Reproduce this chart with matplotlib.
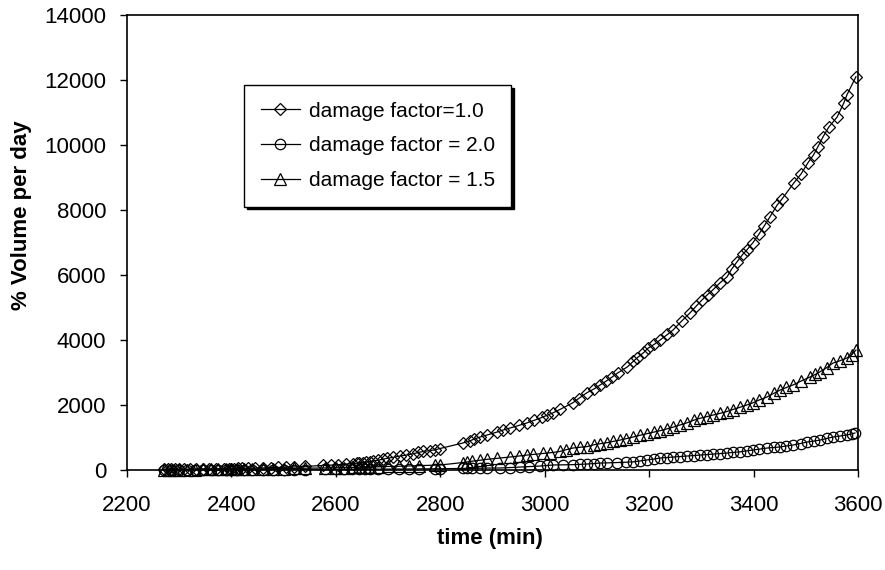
import matplotlib
matplotlib.use("Agg")
import matplotlib.pyplot as plt

plt.rcParams['font.family'] = ['Liberation Sans', 'DejaVu Sans']

# damage factor = 1.0 (diamonds)
t_df10 = [2270, 2278, 2285, 2292, 2300, 2310, 2320, 2332, 2345, 2358, 2370, 2385, 2395, 2400,
          2405, 2412, 2420, 2432, 2445, 2460, 2475, 2490, 2505, 2520, 2540, 2575, 2590, 2605,
          2620, 2633, 2640, 2645, 2652, 2658, 2665, 2671, 2680, 2690, 2698, 2710, 2723, 2735,
          2748, 2758, 2767, 2780, 2790, 2799, 2843, 2857, 2865, 2876, 2890, 2909, 2920, 2933,
          2950, 2966, 2980, 2995, 3005, 3016, 3030, 3054, 3065, 3081, 3095, 3106, 3118, 3129,
          3140, 3158, 3170, 3177, 3190, 3198, 3210, 3221, 3235, 3246, 3262, 3278, 3290, 3301,
          3312, 3322, 3335, 3349, 3358, 3368, 3380, 3387, 3399, 3410, 3420, 3431, 3445, 3455,
          3477, 3491, 3504, 3515, 3523, 3533, 3544, 3560, 3573, 3579, 3596]
v_df10 = [20, 20, 22, 22, 25, 25, 28, 30, 32, 35, 38, 40, 42, 45,
          45, 48, 50, 55, 60, 65, 72, 80, 88, 95, 110, 140, 150, 165,
          185, 200, 210, 215, 230, 245, 260, 280, 300, 330, 360, 390, 430, 460,
          500, 540, 570, 600, 620, 660, 830, 900, 950, 1015, 1080, 1170, 1230, 1290,
          1370, 1450, 1530, 1620, 1690, 1760, 1870, 2070, 2200, 2380, 2500, 2615, 2740, 2860,
          2990, 3170, 3350, 3450, 3620, 3750, 3870, 4000, 4170, 4310, 4580, 4830, 5040, 5230,
          5400, 5540, 5750, 5940, 6180, 6400, 6650, 6770, 7000, 7250, 7500, 7780, 8150, 8350,
          8830, 9110, 9450, 9700, 9940, 10250, 10550, 10860, 11300, 11550, 12100]

# damage factor = 2.0 (circles)
t_df20 = [2270, 2285, 2300, 2315, 2330, 2345, 2360, 2375, 2390, 2400, 2410, 2425, 2440, 2460,
          2480, 2500, 2520, 2540, 2580, 2600, 2615, 2630, 2645, 2655, 2665, 2680, 2700, 2720,
          2740, 2760, 2790, 2800, 2843, 2852, 2860, 2876, 2890, 2914, 2933, 2953, 2970, 2991,
          3005, 3016, 3035, 3054, 3068, 3081, 3095, 3106, 3120, 3138, 3155, 3169, 3183, 3196,
          3210, 3221, 3235, 3246, 3260, 3272, 3285, 3297, 3310, 3322, 3335, 3349, 3360, 3374,
          3387, 3399, 3410, 3426, 3440, 3451, 3463, 3476, 3490, 3502, 3515, 3527, 3540, 3552,
          3565, 3579, 3588, 3594]
v_df20 = [3, 3, 4, 4, 5, 5, 6, 6, 7, 8, 8, 9, 10, 11,
          12, 13, 14, 15, 17, 18, 19, 20, 22, 23, 24, 26, 28, 30,
          32, 35, 38, 40, 48, 50, 52, 56, 60, 62, 75, 92, 105, 123,
          140, 155, 160, 165, 175, 185, 200, 215, 220, 230, 240, 250, 280, 310,
          340, 370, 385, 400, 415, 430, 445, 460, 475, 490, 505, 523, 540, 560,
          590, 615, 640, 677, 695, 710, 740, 770, 815, 860, 890, 920, 970, 1015,
          1045, 1080, 1110, 1140]

# damage factor = 1.5 (triangles)
t_df15 = [2270, 2280, 2290, 2300, 2315, 2330, 2345, 2360, 2375, 2390, 2400, 2410, 2425, 2440,
          2460, 2480, 2500, 2520, 2540, 2580, 2600, 2615, 2630, 2645, 2655, 2665, 2680, 2700,
          2720, 2740, 2760, 2790, 2800, 2843, 2852, 2860, 2876, 2890, 2909, 2933, 2950, 2966,
          2978, 2997, 3010, 3029, 3040, 3054, 3068, 3081, 3095, 3106, 3119, 3131, 3144, 3155,
          3169, 3183, 3196, 3210, 3221, 3235, 3246, 3260, 3272, 3285, 3297, 3310, 3322, 3335,
          3349, 3360, 3374, 3387, 3399, 3410, 3426, 3440, 3451, 3463, 3476, 3490, 3508, 3518,
          3527, 3540, 3552, 3565, 3579, 3588, 3596]
v_df15 = [10, 10, 12, 12, 14, 15, 17, 18, 20, 22, 25, 25, 28, 30,
          35, 40, 45, 50, 55, 65, 70, 75, 80, 85, 90, 95, 100, 110,
          115, 125, 135, 150, 155, 230, 250, 270, 300, 330, 360, 400, 430, 460,
          480, 510, 530, 570, 620, 677, 700, 720, 780, 810, 840, 880, 920, 960,
          1015, 1070, 1120, 1170, 1210, 1270, 1320, 1390, 1450, 1530, 1590, 1640, 1690, 1740,
          1800, 1860, 1930, 2000, 2070, 2150, 2250, 2370, 2460, 2540, 2620, 2730, 2860, 2940,
          3020, 3150, 3290, 3360, 3450, 3550, 3690]

labels = ["damage factor=1.0", "damage factor = 2.0", "damage factor = 1.5"]
x_ticks = [2200, 2400, 2600, 2800, 3000, 3200, 3400, 3600]
y_ticks = [0, 2000, 4000, 6000, 8000, 10000, 12000, 14000]

fig = plt.figure(figsize=(8.85, 5.70), dpi=100)
ax = fig.add_axes([0.1435, 0.1754, 0.8260, 0.7983])

style = dict(color='black', linewidth=0.9, markerfacecolor='none',
             markeredgecolor='black', markeredgewidth=0.9, clip_on=False)
ax.plot(t_df10, v_df10, marker='D', markersize=6.5, label=labels[0], **style)
ax.plot(t_df20, v_df20, marker='o', markersize=7.5, label=labels[1], **style)
ax.plot(t_df15, v_df15, marker='^', markersize=8, label=labels[2], **style)

ax.set_xlim(2200, 3600)
ax.set_ylim(0, 14000)
ax.set_xticks(x_ticks)
ax.set_yticks(y_ticks)
ax.tick_params(axis='both', direction='out', length=5, width=1, labelsize=16)
ax.tick_params(axis='y', pad=10)
ax.tick_params(axis='x', pad=13)
for s in ax.spines.values():
    s.set_linewidth(1.2)
    s.set_color('black')

ax.set_xlabel("time (min)", fontsize=16, fontweight='bold')
ax.set_ylabel("% Volume per day", fontsize=16, fontweight='bold')
ax.xaxis.set_label_coords(0.497, -0.128)
ax.yaxis.set_label_coords(-0.130, 0.56)

leg = ax.legend(loc='upper left', bbox_to_anchor=(0.160, 0.846), fontsize=15,
                frameon=True, fancybox=False, shadow={'color': 'black', 'alpha': 1},
                edgecolor='black', handlelength=1.9, handletextpad=0.4,
                labelspacing=0.75, borderpad=0.8, borderaxespad=0)
leg.get_frame().set_linewidth(1.0)

fig.savefig("out.png", dpi=100)
